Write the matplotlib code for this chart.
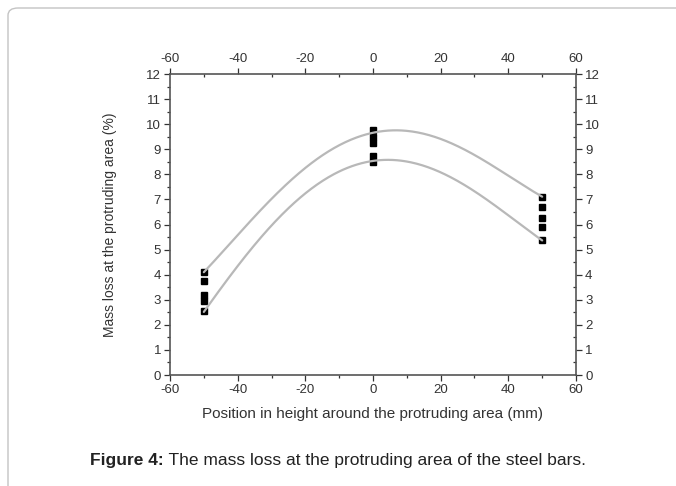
import numpy as np
import matplotlib
matplotlib.use("Agg")
import matplotlib.pyplot as plt
from matplotlib.patches import FancyBboxPatch
from matplotlib.ticker import MultipleLocator

plt.rcParams['font.family'] = ['Liberation Sans', 'DejaVu Sans']
plt.rcParams['axes.unicode_minus'] = False

# measured mass loss (%) at three positions (mm)
positions = [-50, 0, 50]
mass_loss = [
    [4.1, 3.75, 3.2, 2.95, 2.55],
    [9.75, 9.5, 9.25, 8.75, 8.5],
    [7.08, 6.7, 6.25, 5.92, 5.38],
]

# envelope curves
curve_x = [-50, -40, -30, -20, -10, 0, 10, 20, 30, 40, 50]
upper_curve = [4.1, 5.58, 7.0, 8.3, 9.1, 9.7, 9.75, 9.37, 8.77, 7.97, 7.1]
lower_curve = [2.55, 4.25, 6.0, 7.3, 8.1, 8.5, 8.5, 8.1, 7.3, 6.4, 5.35]

x_ticks = [-60, -40, -20, 0, 20, 40, 60]
y_ticks = list(range(0, 13))

W, H = 676, 486
fig = plt.figure(figsize=(W / 100, H / 100), dpi=100)

# rounded frame around the figure panel
frame = FancyBboxPatch((8 / W, -0.2), 1.2, 1.2 - 8 / H,
                       boxstyle="round,pad=0,rounding_size=0.015",
                       transform=fig.transFigure, fill=False,
                       edgecolor='#c4c4c4', linewidth=1.0, clip_on=False)
fig.patches.append(frame)

ax = fig.add_axes([170 / W, 1 - 375 / H, (576 - 170) / W, (375 - 74) / H])

for xp, vals in zip(positions, mass_loss):
    ax.plot([xp] * len(vals), vals, linestyle='none', marker='s',
            markersize=4.5, color='black', zorder=3)

xs = np.linspace(min(curve_x), max(curve_x), 300)
for cy in (upper_curve, lower_curve):
    coef = np.polyfit(curve_x, cy, 4)
    ax.plot(xs, np.polyval(coef, xs), color='#b8b8b8', linewidth=1.6,
            zorder=4, solid_capstyle='round')

ax.set_xlim(-60, 60)
ax.set_ylim(0, 12)
ax.set_xticks(x_ticks)
ax.set_yticks(y_ticks)
ax.xaxis.set_minor_locator(MultipleLocator(10))
ax.yaxis.set_minor_locator(MultipleLocator(0.5))

ax.tick_params(which='both', top=True, right=True, labeltop=True,
               labelright=True, labelsize=9.5, colors='#333333', width=0.9)
ax.tick_params(which='major', length=4.5)
ax.tick_params(which='minor', length=2.5)
for t in ax.xaxis.get_major_ticks() + ax.xaxis.get_minor_ticks():
    t.tick1line.set_marker(3)  # bottom: pointing down (out)
    t.tick2line.set_marker(3)  # top: pointing down (in)
for t in ax.yaxis.get_major_ticks() + ax.yaxis.get_minor_ticks():
    t.tick1line.set_marker(0)  # left: pointing left (out)
    t.tick2line.set_marker(0)  # right: pointing left (in)
ax.tick_params(axis='x', which='major', pad=2)
ax.tick_params(axis='y', which='major', pad=2)

for s in ax.spines.values():
    s.set_color('#555555')
    s.set_linewidth(1.2)

ax.set_xlabel('Position in height around the protruding area (mm)',
              fontsize=11, color='#333333', va='center')
ax.xaxis.set_label_coords(0.5, -(414 - 375) / (375 - 74))
ax.set_ylabel('Mass loss at the protruding area (%)', fontsize=10,
              color='#333333', va='center')
ax.yaxis.set_label_coords(-(170 - 110) / (576 - 170), 0.5)

cap_y = 1 - 460 / H
t1 = fig.text(0.5, cap_y, 'Figure 4:', ha='left', va='center',
              fontsize=12.5, fontweight='bold', color='#222222')
t2 = fig.text(0.5, cap_y, ' The mass loss at the protruding area of the steel bars.',
              ha='left', va='center', fontsize=12.5, color='#222222')
r = fig.canvas.get_renderer()
w1 = t1.get_window_extent(r).width
w2 = t2.get_window_extent(r).width
x0 = (W - (w1 + w2)) / 2
t1.set_x(x0 / W)
t2.set_x((x0 + w1) / W)

fig.savefig('out.png', dpi=100)
